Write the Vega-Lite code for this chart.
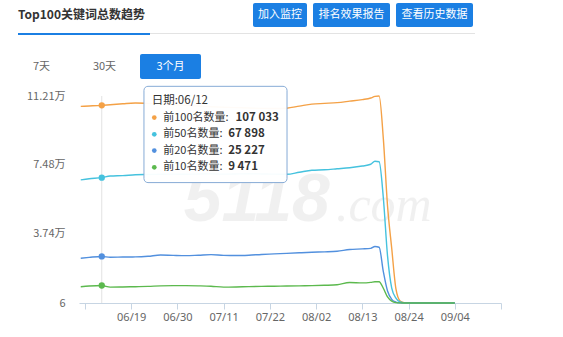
{
  "$schema": "https://vega.github.io/schema/vega-lite/v6.json",
  "background": "#ffffff",
  "padding": {"left": 18, "top": 3, "right": 5, "bottom": 5},
  "config": {"view": {"stroke": null}, "font": "Noto Sans CJK SC"},
  "datasets": {
    "main": [
      {"date": "2019-06-07T00:00", "前100名数量": 106500, "前50名数量": 66700, "前20名数量": 24250, "前10名数量": 8840},
      {"date": "2019-06-09T00:00", "前100名数量": 106700, "前50名数量": 67300, "前20名数量": 24700, "前10名数量": 9200},
      {"date": "2019-06-12T00:00", "前100名数量": 107033, "前50名数量": 67898, "前20名数量": 25227, "前10名数量": 9471},
      {"date": "2019-06-14T00:00", "前100名数量": 107400, "前50名数量": 68750, "前20名数量": 24800, "前10名数量": 8600},
      {"date": "2019-06-17T00:00", "前100名数量": 107900, "前50名数量": 69000, "前20名数量": 24900, "前10名数量": 8700},
      {"date": "2019-06-20T00:00", "前100名数量": 108300, "前50名数量": 69450, "前20名数量": 24960, "前10名数量": 8840},
      {"date": "2019-06-23T00:00", "前100名数量": 108100, "前50名数量": 69600, "前20名数量": 25300, "前10名数量": 9000},
      {"date": "2019-06-26T00:00", "前100名数量": 107800, "前50名数量": 69700, "前20名数量": 26000, "前10名数量": 9300},
      {"date": "2019-06-29T00:00", "前100名数量": 107400, "前50名数量": 69800, "前20名数量": 25800, "前10名数量": 9400},
      {"date": "2019-07-02T00:00", "前100名数量": 107000, "前50名数量": 69700, "前20名数量": 25660, "前10名数量": 9400},
      {"date": "2019-07-05T00:00", "前100名数量": 106700, "前50名数量": 69900, "前20名数量": 25900, "前10名数量": 9300},
      {"date": "2019-07-08T00:00", "前100名数量": 106300, "前50名数量": 70000, "前20名数量": 26200, "前10名数量": 9100},
      {"date": "2019-07-11T00:00", "前100名数量": 106000, "前50名数量": 69800, "前20名数量": 25800, "前10名数量": 8600},
      {"date": "2019-07-14T00:00", "前100名数量": 105800, "前50名数量": 69900, "前20名数量": 25700, "前10名数量": 8700},
      {"date": "2019-07-17T00:00", "前100名数量": 105600, "前50名数量": 70000, "前20名数量": 25900, "前10名数量": 8900},
      {"date": "2019-07-20T00:00", "前100名数量": 105400, "前50名数量": 69900, "前20名数量": 26300, "前10名数量": 9000},
      {"date": "2019-07-23T00:00", "前100名数量": 105300, "前50名数量": 69800, "前20名数量": 26600, "前10名数量": 9100},
      {"date": "2019-07-26T00:00", "前100名数量": 105500, "前50名数量": 69700, "前20名数量": 26900, "前10名数量": 9200},
      {"date": "2019-07-29T00:00", "前100名数量": 106600, "前50名数量": 70800, "前20名数量": 27200, "前10名数量": 9300},
      {"date": "2019-08-01T00:00", "前100名数量": 107700, "前50名数量": 71900, "前20名数量": 27500, "前10名数量": 9400},
      {"date": "2019-08-04T00:00", "前100名数量": 108100, "前50名数量": 72170, "前20名数量": 27700, "前10名数量": 9600},
      {"date": "2019-08-07T00:00", "前100名数量": 108500, "前50名数量": 72700, "前20名数量": 28000, "前10名数量": 9900},
      {"date": "2019-08-10T00:00", "前100名数量": 109300, "前50名数量": 73250, "前20名数量": 29000, "前10名数量": 11100},
      {"date": "2019-08-13T00:00", "前100名数量": 110150, "前50名数量": 74170, "前20名数量": 29300, "前10名数量": 10900},
      {"date": "2019-08-15T00:00", "前100名数量": 111000, "前50名数量": 75150, "前20名数量": 29600, "前10名数量": 11200},
      {"date": "2019-08-16T00:00", "前100名数量": 111900, "前50名数量": 76800, "前20名数量": 30600, "前10名数量": 11500},
      {"date": "2019-08-17T00:00", "前100名数量": 112100, "前50名数量": 76500, "前20名数量": 30200, "前10名数量": 11550},
      {"date": "2019-08-18T00:00", "前100名数量": 89000, "前50名数量": 57000, "前20名数量": 17000, "前10名数量": 8000},
      {"date": "2019-08-19T00:00", "前100名数量": 52600, "前50名数量": 25500, "前20名数量": 6500, "前10名数量": 3300},
      {"date": "2019-08-20T00:00", "前100名数量": 29500, "前50名数量": 8100, "前20名数量": 2000, "前10名数量": 1000},
      {"date": "2019-08-21T00:00", "前100名数量": 7600, "前50名数量": 2700, "前20名数量": 500, "前10名数量": 200},
      {"date": "2019-08-22T00:00", "前100名数量": 1100, "前50名数量": 540, "前20名数量": 100, "前10名数量": 60},
      {"date": "2019-08-23T00:00", "前100名数量": 200, "前50名数量": 60, "前20名数量": 30, "前10名数量": 20},
      {"date": "2019-08-26T00:00", "前100名数量": 30, "前50名数量": 20, "前20名数量": 15, "前10名数量": 10},
      {"date": "2019-08-30T00:00", "前100名数量": 10, "前50名数量": 8, "前20名数量": 8, "前10名数量": 7},
      {"date": "2019-09-04T00:00", "前100名数量": 6, "前50名数量": 6, "前20名数量": 6, "前10名数量": 6}
    ],
    "hover": [
      {"date": "2019-06-12T00:00", "series": "前100名数量", "value": 107033},
      {"date": "2019-06-12T00:00", "series": "前50名数量", "value": 67898},
      {"date": "2019-06-12T00:00", "series": "前20名数量", "value": 25227},
      {"date": "2019-06-12T00:00", "series": "前10名数量", "value": 9471}
    ]
  },
  "spacing": 19,
  "vconcat": [
    {
      "spacing": 6,
      "vconcat": [
        {
          "spacing": 6,
          "hconcat": [
            {
              "width": 229, "height": 24,
              "data": {"values": [{"t": "Top100关键词总数趋势"}]},
              "mark": {"type": "text", "align": "left", "fontSize": 12, "fontWeight": "bold", "color": "#333333"},
              "encoding": {"text": {"field": "t"}, "x": {"datum": 0, "type": "quantitative", "scale": {"domain": [0, 1]}, "axis": null}}
            },
            {
              "width": 54, "height": 24, "view": {"fill": "#1b7fe3", "cornerRadius": 2},
              "data": {"values": [{"t": "加入监控"}]},
              "mark": {"type": "text", "fontSize": 11, "color": "#ffffff"},
              "encoding": {"text": {"field": "t"}}
            },
            {
              "width": 77, "height": 24, "view": {"fill": "#1b7fe3", "cornerRadius": 2},
              "data": {"values": [{"t": "排名效果报告"}]},
              "mark": {"type": "text", "fontSize": 11, "color": "#ffffff"},
              "encoding": {"text": {"field": "t"}}
            },
            {
              "width": 77, "height": 24, "view": {"fill": "#1b7fe3", "cornerRadius": 2},
              "data": {"values": [{"t": "查看历史数据"}]},
              "mark": {"type": "text", "fontSize": 11, "color": "#ffffff"},
              "encoding": {"text": {"field": "t"}}
            }
          ]
        },
        {
          "spacing": 0,
          "hconcat": [
            {
              "width": 132, "height": 2, "view": {"fill": "#1b7fe3"},
              "data": {"values": []},
              "mark": {"type": "text"},
              "encoding": {"text": {"field": "t", "type": "nominal"}}
            },
            {
              "width": 325, "height": 1, "view": {"fill": "#e3e3e3"},
              "data": {"values": []},
              "mark": {"type": "text"},
              "encoding": {"text": {"field": "t", "type": "nominal"}}
            }
          ]
        }
      ]
    },
    {
      "spacing": 6,
      "vconcat": [
        {
          "spacing": 0,
          "hconcat": [
            {
              "width": 47, "height": 25,
              "data": {"values": [{"t": "7天"}]},
              "mark": {"type": "text", "fontSize": 11, "color": "#666666"},
              "encoding": {"text": {"field": "t"}}
            },
            {
              "width": 75, "height": 25,
              "data": {"values": [{"t": "30天"}]},
              "mark": {"type": "text", "fontSize": 11, "color": "#666666", "dx": 2},
              "encoding": {"text": {"field": "t"}}
            },
            {
              "width": 61, "height": 25, "view": {"fill": "#1b7fe3", "cornerRadius": 2},
              "data": {"values": [{"t": "3个月"}]},
              "mark": {"type": "text", "fontSize": 11, "color": "#ffffff"},
              "encoding": {"text": {"field": "t"}}
            }
          ]
        },
        {
          "spacing": 0,
          "hconcat": [
            {
              "width": 1, "height": 1,
              "data": {"values": []},
              "mark": {"type": "text"},
              "encoding": {"text": {"field": "t", "type": "nominal"}}
            },
            {
              "width": 422,
              "height": 207,
              "layer": [
                {
                  "data": {"values": [{"t": "5118"}]},
                  "mark": {"type": "text", "align": "right", "baseline": "alphabetic", "fontSize": 68, "fontStyle": "italic", "fontWeight": "bold", "font": "Liberation Sans", "color": "#000000", "opacity": 0.055},
                  "encoding": {
                    "x": {"datum": {"year": 2019, "month": 8, "date": 5, "hours": 7}, "type": "temporal"},
                    "y": {"datum": 44620, "type": "quantitative"},
                    "text": {"field": "t"}
                  }
                },
                {
                  "data": {"values": [{"t": ".com"}]},
                  "mark": {"type": "text", "align": "left", "baseline": "alphabetic", "fontSize": 50, "fontStyle": "italic", "font": "Liberation Serif", "color": "#000000", "opacity": 0.055},
                  "encoding": {
                    "x": {"datum": {"year": 2019, "month": 8, "date": 6, "hours": 17}, "type": "temporal"},
                    "y": {"datum": 44620, "type": "quantitative"},
                    "text": {"field": "t"}
                  }
                },
                {
                  "data": {"values": [{}]},
                  "mark": {"type": "rule", "color": "#e2e2e2", "strokeWidth": 1},
                  "encoding": {"x": {"datum": {"year": 2019, "month": 6, "date": 12}, "type": "temporal"}}
                },
                {
                  "data": {"name": "main"},
                  "transform": [{"fold": ["前100名数量", "前50名数量", "前20名数量", "前10名数量"], "as": ["series", "value"]}],
                  "mark": {"type": "line", "interpolate": "monotone"},
                  "encoding": {
                    "x": {
                      "field": "date", "type": "temporal",
                      "scale": {"domain": [{"year": 2019, "month": 6, "date": 6, "hours": 14}, {"year": 2019, "month": 9, "date": 15}]},
                      "axis": {
                        "title": null, "grid": false,
                        "values": [
                          {"year": 2019, "month": 6, "date": 8}, {"year": 2019, "month": 6, "date": 19}, {"year": 2019, "month": 6, "date": 30},
                          {"year": 2019, "month": 7, "date": 11}, {"year": 2019, "month": 7, "date": 22}, {"year": 2019, "month": 8, "date": 2},
                          {"year": 2019, "month": 8, "date": 13}, {"year": 2019, "month": 8, "date": 24}, {"year": 2019, "month": 9, "date": 4},
                          {"year": 2019, "month": 9, "date": 15}
                        ],
                        "labelExpr": "datum.index == 0 || datum.index == 1 ? '' : timeFormat(datum.value, '%m/%d')",
                        "labelOverlap": false, "labelFlush": false,
                        "domainColor": "#c7d5e3", "tickColor": "#c7d5e3", "tickSize": 6,
                        "labelColor": "#666666", "labelFontSize": 11, "labelFont": "Noto Sans", "labelPadding": 2
                      }
                    },
                    "y": {
                      "field": "value", "type": "quantitative",
                      "scale": {"domain": [6, 112100], "nice": false, "zero": false},
                      "axis": {
                        "title": null, "values": [6, 37400, 74800, 112100],
                        "labelExpr": "datum.value < 10 ? '6' : format(datum.value / 10000, '.2f') + '万'",
                        "domain": false, "ticks": false, "labelPadding": 14, "minExtent": 60,
                        "gridColor": "#e6e6e6", "labelColor": "#666666", "labelFontSize": 11
                      }
                    },
                    "color": {
                      "field": "series", "type": "nominal", "legend": null,
                      "scale": {"domain": ["前100名数量", "前50名数量", "前20名数量", "前10名数量"], "range": ["#f4a146", "#45c2de", "#5290de", "#5cb94e"]}
                    },
                    "strokeWidth": {
                      "field": "series", "type": "ordinal", "legend": null,
                      "scale": {"domain": ["前100名数量", "前50名数量", "前20名数量", "前10名数量"], "range": [1.4, 1.4, 1.4, 2.5]}
                    }
                  }
                },
                {
                  "data": {"name": "hover"},
                  "mark": {"type": "point", "filled": true, "size": 40, "opacity": 1},
                  "encoding": {
                    "x": {"field": "date", "type": "temporal"},
                    "y": {"field": "value", "type": "quantitative"},
                    "color": {"field": "series", "type": "nominal", "legend": null}
                  }
                },
                {
                  "data": {"values": [{}]},
                  "mark": {"type": "rect", "fill": "#ffffff", "fillOpacity": 0.96, "stroke": "#86abd6", "strokeWidth": 1, "cornerRadius": 4},
                  "encoding": {
                    "x": {"datum": {"year": 2019, "month": 6, "date": 22, "hours": 1}, "type": "temporal"},
                    "x2": {"datum": {"year": 2019, "month": 7, "date": 26, "hours": 2}},
                    "y": {"datum": 117340, "type": "quantitative"},
                    "y2": {"datum": 65200}
                  }
                },
                {
                  "data": {"values": [{}]},
                  "mark": {"type": "text", "align": "left", "fontSize": 11.5, "color": "#333333"},
                  "encoding": {
                    "x": {"datum": {"year": 2019, "month": 6, "date": 23, "hours": 21}, "type": "temporal"},
                    "y": {"datum": 109440, "type": "quantitative"},
                    "text": {"value": "日期:06/12"}
                  }
                },
                {
                  "data": {"values": [{}]},
                  "encoding": {"y": {"datum": 100390, "type": "quantitative"}},
                  "layer": [
                    {"mark": {"type": "point", "filled": true, "size": 22, "opacity": 1, "color": "#f4a146"}, "encoding": {"x": {"datum": {"year": 2019, "month": 6, "date": 24, "hours": 12}, "type": "temporal"}}},
                    {"mark": {"type": "text", "align": "left", "fontSize": 11, "color": "#333333"}, "encoding": {"x": {"datum": {"year": 2019, "month": 6, "date": 26, "hours": 15}, "type": "temporal"}, "text": {"value": "前100名数量:"}}},
                    {"mark": {"type": "text", "align": "left", "fontSize": 11.5, "fontWeight": "bold", "color": "#333333"}, "encoding": {"x": {"datum": {"year": 2019, "month": 7, "date": 13, "hours": 20}, "type": "temporal"}, "text": {"value": "107 033"}}}
                  ]
                },
                {
                  "data": {"values": [{}]},
                  "encoding": {"y": {"datum": 91350, "type": "quantitative"}},
                  "layer": [
                    {"mark": {"type": "point", "filled": true, "size": 22, "opacity": 1, "color": "#45c2de"}, "encoding": {"x": {"datum": {"year": 2019, "month": 6, "date": 24, "hours": 12}, "type": "temporal"}}},
                    {"mark": {"type": "text", "align": "left", "fontSize": 11, "color": "#333333"}, "encoding": {"x": {"datum": {"year": 2019, "month": 6, "date": 26, "hours": 15}, "type": "temporal"}, "text": {"value": "前50名数量:"}}},
                    {"mark": {"type": "text", "align": "left", "fontSize": 11.5, "fontWeight": "bold", "color": "#333333"}, "encoding": {"x": {"datum": {"year": 2019, "month": 7, "date": 12, "hours": 2}, "type": "temporal"}, "text": {"value": "67 898"}}}
                  ]
                },
                {
                  "data": {"values": [{}]},
                  "encoding": {"y": {"datum": 82525, "type": "quantitative"}},
                  "layer": [
                    {"mark": {"type": "point", "filled": true, "size": 22, "opacity": 1, "color": "#5290de"}, "encoding": {"x": {"datum": {"year": 2019, "month": 6, "date": 24, "hours": 12}, "type": "temporal"}}},
                    {"mark": {"type": "text", "align": "left", "fontSize": 11, "color": "#333333"}, "encoding": {"x": {"datum": {"year": 2019, "month": 6, "date": 26, "hours": 15}, "type": "temporal"}, "text": {"value": "前20名数量:"}}},
                    {"mark": {"type": "text", "align": "left", "fontSize": 11.5, "fontWeight": "bold", "color": "#333333"}, "encoding": {"x": {"datum": {"year": 2019, "month": 7, "date": 12, "hours": 2}, "type": "temporal"}, "text": {"value": "25 227"}}}
                  ]
                },
                {
                  "data": {"values": [{}]},
                  "encoding": {"y": {"datum": 73480, "type": "quantitative"}},
                  "layer": [
                    {"mark": {"type": "point", "filled": true, "size": 22, "opacity": 1, "color": "#5cb94e"}, "encoding": {"x": {"datum": {"year": 2019, "month": 6, "date": 24, "hours": 12}, "type": "temporal"}}},
                    {"mark": {"type": "text", "align": "left", "fontSize": 11, "color": "#333333"}, "encoding": {"x": {"datum": {"year": 2019, "month": 6, "date": 26, "hours": 15}, "type": "temporal"}, "text": {"value": "前10名数量:"}}},
                    {"mark": {"type": "text", "align": "left", "fontSize": 11.5, "fontWeight": "bold", "color": "#333333"}, "encoding": {"x": {"datum": {"year": 2019, "month": 7, "date": 12, "hours": 2}, "type": "temporal"}, "text": {"value": "9 471"}}}
                  ]
                }
              ]
            }
          ]
        }
      ]
    }
  ]
}
